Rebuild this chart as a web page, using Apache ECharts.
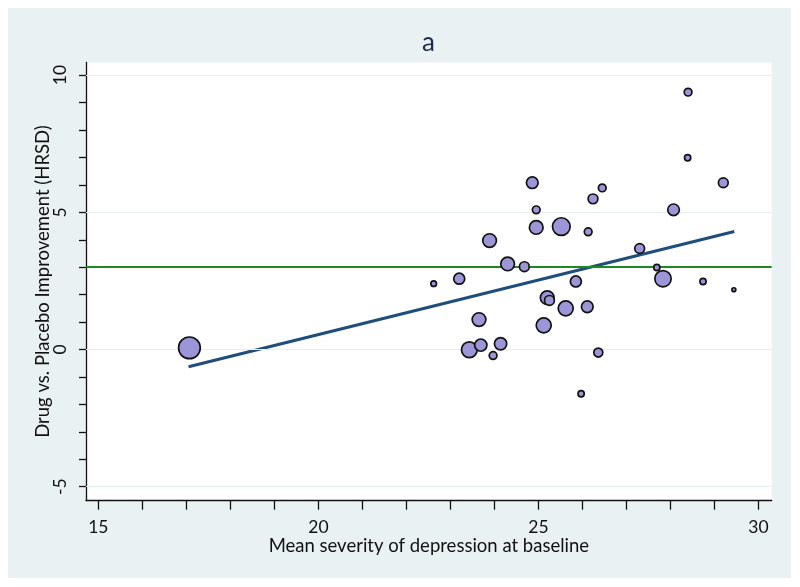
<!DOCTYPE html>
<html>
<head>
<meta charset="utf-8">
<script src="https://cdn.jsdelivr.net/npm/echarts@6/dist/echarts.min.js"></script>
<style>
  html, body { margin: 0; padding: 0; background: #ffffff; }
  #chart { width: 800px; height: 587px; }
</style>
</head>
<body>
<div id="chart"></div>
<script>
// Mean baseline severity (x) per study
const baselineSeverity = [
  28.40, 28.39, 24.86, 26.45, 26.24, 29.20, 24.95, 28.07, 24.95, 25.52,
  26.13, 23.89, 27.30, 24.30, 24.68, 23.20, 22.62, 27.69, 27.83, 28.74,
  29.44, 25.85, 25.20, 25.25, 25.62, 26.11, 23.65, 25.12, 23.43, 23.69,
  24.14, 23.97, 26.36, 25.97, 17.07
];
// Drug vs. placebo improvement (y) per study
const drugPlaceboDiff = [
  9.38, 6.99, 6.08, 5.89, 5.49, 6.08, 5.09, 5.09, 4.45, 4.48,
  4.29, 3.97, 3.68, 3.12, 3.02, 2.58, 2.40, 2.99, 2.58, 2.48,
  2.18, 2.48, 1.89, 1.79, 1.50, 1.56, 1.09, 0.88, -0.01, 0.16,
  0.21, -0.22, -0.11, -1.61, 0.06
];
// Relative study weight (bubble area)
const studyWeight = [
  19, 13, 40, 19, 29, 29, 19, 40, 54, 87,
  19, 54, 29, 54, 29, 36, 11, 13, 75, 13,
  6, 36, 54, 29, 64, 40, 54, 64, 70, 44,
  44, 19, 25, 13, 129
];
// Fitted meta-regression line endpoints
const fitX = [17.05, 29.45];
const fitY = [-0.63, 4.30];
// Reference line (clinical significance threshold)
const referenceY = 3;
// Tick values
const xTicks = [15, 16, 17, 18, 19, 20, 21, 22, 23, 24, 25, 26, 27, 28, 29, 30];
const xLabels = [15, 20, 25, 30];
const yTicks = [-5, -4, -3, -2, -1, 0, 1, 2, 3, 4, 5, 6, 7, 8, 9, 10];
const yLabels = [-5, 0, 5, 10];

const FONT = 'Lato';
const chart = echarts.init(document.getElementById('chart'), null, { renderer: 'canvas' });

const points = baselineSeverity.map((x, i) => [x, drugPlaceboDiff[i], studyWeight[i]]);
const fitData = fitX.map((x, i) => [x, fitY[i]]);

chart.setOption({
  backgroundColor: '#ffffff',
  animation: false,
  graphic: [{
    type: 'rect', z: -100, silent: true,
    shape: { x: 8, y: 8, width: 783, height: 570 },
    style: { fill: '#eaf1f3' }
  }],
  title: {
    text: 'a',
    left: 417,
    top: 25,
    textStyle: { fontFamily: FONT, fontSize: 26, fontWeight: 'normal', color: '#1e2a4e' }
  },
  grid: {
    left: 86, top: 62.5, right: 28.3, bottom: 86.3,
    show: true, backgroundColor: '#ffffff', borderWidth: 0
  },
  xAxis: {
    type: 'value',
    min: 14.72, max: 30.30,
    name: 'Mean severity of depression at baseline',
    nameLocation: 'middle',
    nameMoveOverlap: false,
    nameGap: 36,
    nameTextStyle: { fontFamily: FONT, fontSize: 18.5, color: '#111' },
    axisLine: { show: true, onZero: false, lineStyle: { color: '#111', width: 1.3 } },
    axisTick: { show: true, length: 9, customValues: xTicks, lineStyle: { color: '#111', width: 1.3 } },
    axisLabel: { customValues: xLabels, margin: 18, fontFamily: FONT, fontSize: 17.5, color: '#111' },
    splitLine: { show: false }
  },
  yAxis: {
    type: 'value',
    min: -5.51, max: 10.46,
    name: 'Drug vs. Placebo Improvement (HRSD)',
    nameLocation: 'middle',
    nameMoveOverlap: false,
    nameGap: 33,
    nameTextStyle: { fontFamily: FONT, fontSize: 18.5, color: '#111' },
    axisLine: { show: true, onZero: false, lineStyle: { color: '#111', width: 1.3 } },
    axisTick: { show: true, length: 7, customValues: yTicks, lineStyle: { color: '#111', width: 1.3 } },
    axisLabel: { customValues: yLabels, rotate: 90, margin: 17, fontFamily: FONT, fontSize: 17.5, color: '#111' },
    splitLine: { show: false }
  },
  series: [
    {
      type: 'line',
      data: [],
      silent: true,
      z: 1,
      markLine: {
        silent: true, symbol: 'none', label: { show: false },
        lineStyle: { color: '#e6eef0', width: 1, type: 'solid' },
        data: yLabels.map(v => ({ yAxis: v }))
      }
    },
    {
      type: 'line',
      data: [],
      silent: true,
      z: 2,
      markLine: {
        silent: true, symbol: 'none', label: { show: false },
        lineStyle: { color: '#1d8a1d', width: 2, type: 'solid' },
        data: [{ yAxis: referenceY }]
      }
    },
    {
      type: 'line',
      data: fitData,
      showSymbol: false,
      symbol: 'none',
      z: 3,
      lineStyle: { color: '#1f4e7c', width: 3 }
    },
    {
      type: 'scatter',
      data: points,
      z: 5,
      symbolSize: d => 2 * Math.sqrt(d[2]) - 1,
      itemStyle: { color: '#9c95d8', borderColor: '#111111', borderWidth: 1.7, opacity: 1 }
    }
  ]
});
</script>
</body>
</html>
